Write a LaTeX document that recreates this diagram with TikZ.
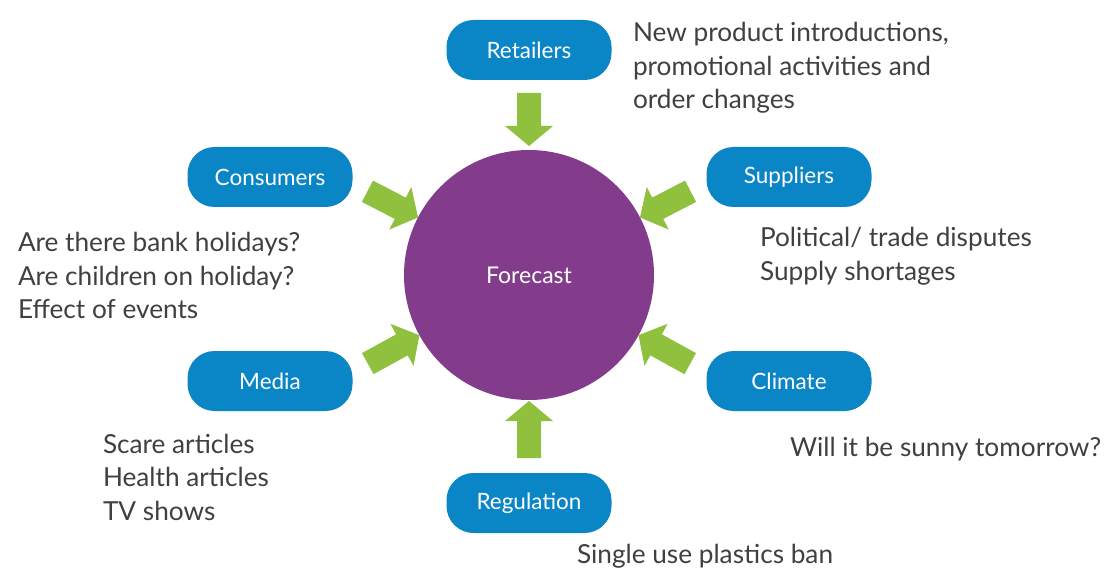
\documentclass[tikz,border=0pt]{standalone}
\usepackage{fontspec}
\setmainfont{Lato}
\usetikzlibrary{calc}
\definecolor{pillblue}{HTML}{0A85C6}
\definecolor{fcpurple}{HTML}{833C8B}
\definecolor{arrowgreen}{HTML}{8FC03E}
\definecolor{txtgrey}{HTML}{404040}
\newcommand{\blockarrow}[2]{%
  \fill[arrowgreen]
    ($(#1)!12pt!90:(#2)$) --
    ($($(#2)!20pt!(#1)$)!12pt!90:(#2)$) --
    ($($(#2)!20pt!(#1)$)!24pt!90:(#2)$) --
    (#2) --
    ($($(#2)!20pt!(#1)$)!24pt!-90:(#2)$) --
    ($($(#2)!20pt!(#1)$)!12pt!-90:(#2)$) --
    ($(#1)!12pt!-90:(#2)$) -- cycle;}
\begin{document}
\begin{tikzpicture}[x=1pt,y=-1pt,
  pill/.style={fill=pillblue, rounded corners=27pt, minimum width=165pt, minimum height=60pt,
    text=white, font=\fontsize{22.5}{26}\selectfont, inner sep=0pt, outer sep=0pt},
  note/.style={anchor=north west, inner sep=0pt, outer sep=0pt, align=left, text=txtgrey,
    font=\fontsize{26.2}{33.5}\selectfont}]
\useasboundingbox (0,0) rectangle (1116,588);
\fill[white] (0,0) rectangle (1116,588);

\node[circle, fill=fcpurple, minimum size=250pt, inner sep=0pt, outer sep=0pt, text=white,
  font=\fontsize{23}{26}\selectfont] (fc) at (529,275) {Forecast};

\node[pill] (ret) at (529,50) {Retailers};
\node[pill] (con) at (270,177) {Consumers};
\node[pill] (sup) at (789,177) {Suppliers};
\node[pill] (med) at (270,381) {Media};
\node[pill] (cli) at (789,381) {Climate};
\node[pill] (reg) at (529,503) {Regulation};

\coordinate (retT) at ([yshift=-13pt]ret.south);
\coordinate (retH) at ([yshift=4pt]fc.north);
\coordinate (regT) at ([yshift=15pt]reg.north);
\coordinate (regH) at ([yshift=-1pt]fc.south);
\coordinate (conT) at ($(fc.center)+(152.6:182pt)$);
\coordinate (conH) at ($(fc.center)+(152.6:125pt)$);
\coordinate (supT) at ($(fc.center)+(27.4:182pt)$);
\coordinate (supH) at ($(fc.center)+(27.4:125pt)$);
\coordinate (medT) at ($(fc.center)+(208.8:184pt)$);
\coordinate (medH) at ($(fc.center)+(208.8:125pt)$);
\coordinate (cliT) at ($(fc.center)+(-28.8:184pt)$);
\coordinate (cliH) at ($(fc.center)+(-28.8:125pt)$);

\blockarrow{retT}{retH}
\blockarrow{regT}{regH}
\blockarrow{conT}{conH}
\blockarrow{supT}{supH}
\blockarrow{medT}{medH}
\blockarrow{cliT}{cliH}

\node[note] (retN) at (633,41.7-23.45) {\strut New product introductions,\\promotional activities and\\order changes};
\node[note] (conN) at (18,251.5-23.45) {\strut Are there bank holidays?\\Are children on holiday?\\Effect of events};
\node[note] (supN) at (760,246.7-23.45) {\strut Political/ trade disputes\\Supply shortages};
\node[note] (medN) at (103,453-23.45) {\strut Scare articles\\Health articles\\TV shows};
\node[note] (cliN) at (790,456.7-23.45) {\strut Will it be sunny tomorrow?};
\node[note] (regN) at (577,563-23.45) {\strut Single use plastics ban};
\end{tikzpicture}
\end{document}
